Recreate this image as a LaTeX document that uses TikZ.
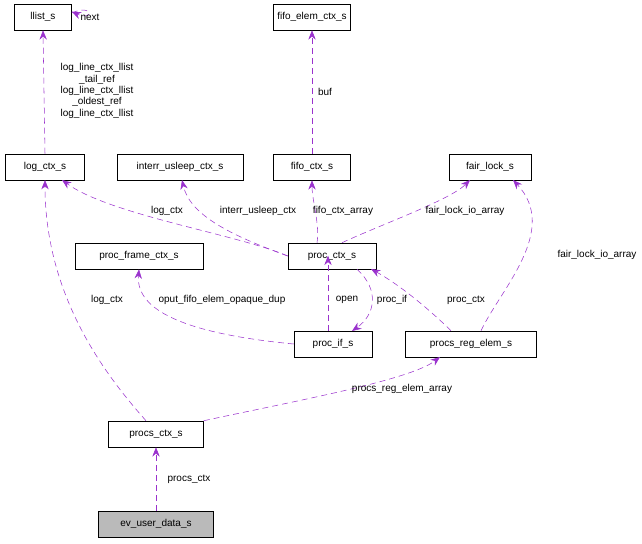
\documentclass[tikz,border=0pt]{standalone}
\usepackage{fontspec}
\setmainfont{Liberation Sans}
\usetikzlibrary{arrows.meta}
\definecolor{edge}{HTML}{9A32CD}
\begin{document}
\begin{tikzpicture}[x=0.75pt,y=-0.75pt,
  box/.style={draw=black,fill=white,font=\fontsize{7.5}{8.5}\selectfont,minimum height=19.5pt,inner sep=2pt,anchor=center},
  e/.style={draw=edge,dashed,dash pattern=on 4.5pt off 3pt,-{Stealth[length=7pt,width=5.5pt]}},
  lab/.style={font=\fontsize{7.5}{8.5}\selectfont,align=center,inner sep=0pt}]
\useasboundingbox (0,0) rectangle (642,543);
\node[box,minimum width=57*0.75pt] (llist) at (43,17) {llist\_s};
\node[box,minimum width=77*0.75pt] (fifoe) at (312,17) {fifo\_elem\_ctx\_s};
\node[box,minimum width=79*0.75pt] (log) at (45,167) {log\_ctx\_s};
\node[box,minimum width=126*0.75pt] (intr) at (180,167) {interr\_usleep\_ctx\_s};
\node[box,minimum width=77*0.75pt] (fifo) at (312,167) {fifo\_ctx\_s};
\node[box,minimum width=82*0.75pt] (fair) at (490,167) {fair\_lock\_s};
\node[box,minimum width=128*0.75pt] (frame) at (139,256) {proc\_frame\_ctx\_s};
\node[box,minimum width=88*0.75pt] (proc) at (332,256) {proc\_ctx\_s};
\node[box,minimum width=78*0.75pt] (pif) at (333,344) {proc\_if\_s};
\node[box,minimum width=131*0.75pt] (preg) at (471,344) {procs\_reg\_elem\_s};
\node[box,minimum width=95*0.75pt] (pctx) at (156,434) {procs\_ctx\_s};
\node[box,minimum width=115*0.75pt,fill=black!27] (ev) at (156,524) {ev\_user\_data\_s};

\draw[e] (llist.east) ++(0,-4) .. controls +(22,-10) and +(22,10) .. ([yshift=4]llist.east);
\node[lab] at (90,17) {next};
\draw[e] (log.north) -- (llist.south);
\node[lab] at (97,91) {log\_line\_ctx\_llist\\\_tail\_ref\\log\_line\_ctx\_llist\\\_oldest\_ref\\log\_line\_ctx\_llist};
\draw[e] (fifo.north) -- (fifoe.south);
\node[lab] at (325,92) {buf};
\draw[e] (proc.west) .. controls (240,235) and (110,215) .. (62,180);
\node[lab] at (167,211) {log\_ctx};
\draw[e] (proc.west) .. controls (230,235) and (190,215) .. (182,180);
\node[lab] at (258,211) {interr\_usleep\_ctx};
\draw[e] (proc.north) ++(-15,0) .. controls (320,225) and (312,200) .. (fifo.south);
\node[lab] at (343,211) {fifo\_ctx\_array};
\draw[e] (proc.north) ++(10,0) .. controls (380,225) and (450,200) .. (470,180);
\node[lab] at (465,211) {fair\_lock\_io\_array};
\draw[e] (pif.west) .. controls (200,335) and (135,315) .. (frame.south);
\node[lab] at (222,300) {oput\_fifo\_elem\_opaque\_dup};
\draw[e] (pif.north) ++(-5,0) -- ++(0,-75);
\node[lab] at (347,300) {open};
\draw[e] (proc.south) ++(25,0) .. controls (380,290) and (375,315) .. (352,331);
\node[lab] at (392,300) {proc\_if};
\draw[e] (preg.north) ++(-20,0) .. controls (430,310) and (400,285) .. (371,269);
\node[lab] at (466,300) {proc\_ctx};
\draw[e] (preg.north) ++(10,0) .. controls (500,290) and (560,230) .. (513,180);
\node[lab] at (597,255) {fair\_lock\_io\_array};
\draw[e] (pctx.north east) .. controls (300,400) and (410,380) .. (440,357);
\node[lab] at (402,389) {procs\_reg\_elem\_array};
\draw[e] (pctx.north) ++(-10,0) .. controls (110,380) and (45,300) .. (45,180);
\node[lab] at (107,300) {log\_ctx};
\draw[e] (ev.north) -- (pctx.south);
\node[lab] at (189,479) {procs\_ctx};
\end{tikzpicture}
\end{document}
